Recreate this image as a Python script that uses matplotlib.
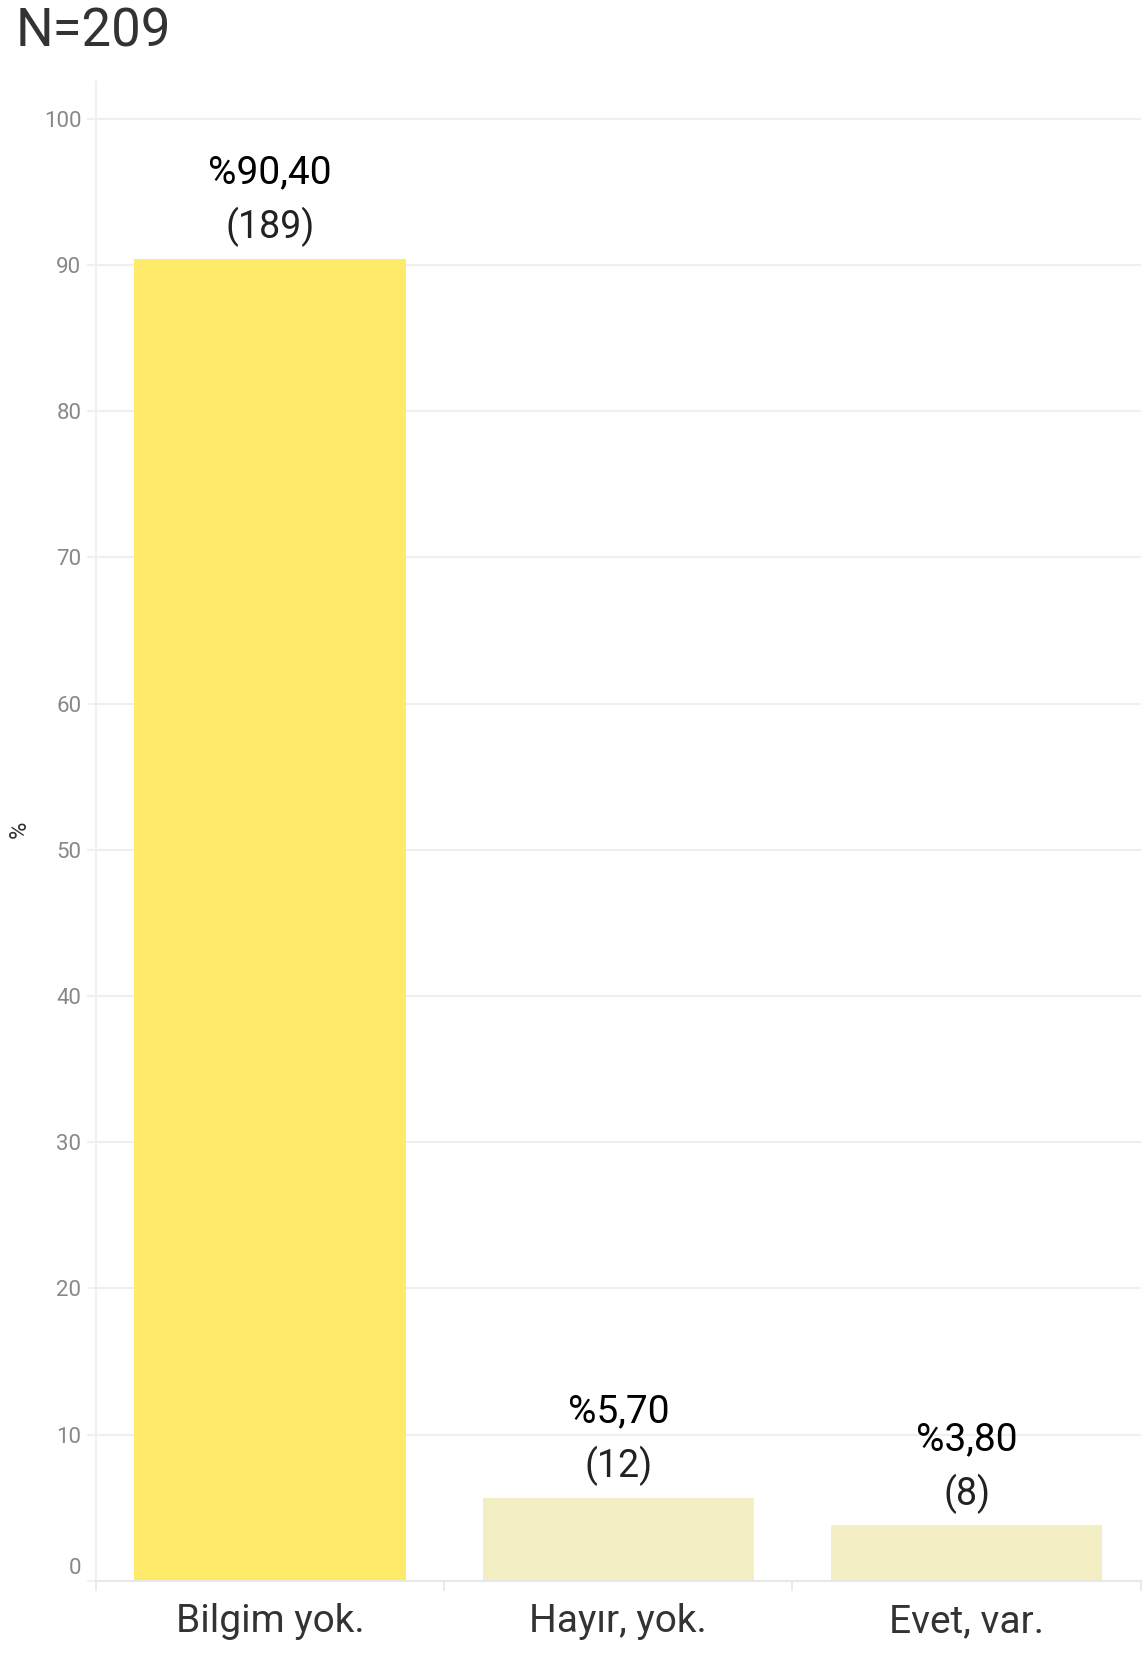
import matplotlib.pyplot as plt
import matplotlib.transforms as mtransforms

# --------------------------------------------------------
# Data
# --------------------------------------------------------
categories = ['Bilgim yok.', 'Hayır, yok.', 'Evet, var.']
percents = [90.40, 5.70, 3.80]
counts = [189, 12, 8]
bar_colors = ['#FFEB69', '#F3EEC4', '#F3EEC4']
y_ticks = [0, 10, 20, 30, 40, 50, 60, 70, 80, 90, 100]
total_n = 209

plt.rcParams['font.family'] = ['Roboto', 'DejaVu Sans']

fig = plt.figure(figsize=(11.43, 16.64), dpi=100)
ax = fig.add_axes([0.084, 0.0499, 0.914, 0.9008])

x = list(range(len(categories)))
ax.bar(x, percents, width=0.78, color=bar_colors, zorder=2)

# value labels: percentage above count
for xi, p, c in zip(x, percents, counts):
    pct = ('%.2f' % p).replace('.', ',')
    ax.annotate('%' + pct, (xi, p), xytext=(0, 62), textcoords='offset points',
                ha='center', va='center', fontsize=28, color='#000000')
    ax.annotate('(%d)' % c, (xi, p), xytext=(0, 23), textcoords='offset points',
                ha='center', va='center', fontsize=27, color='#222222')

ax.set_xlim(-0.5, 2.5)
ax.set_ylim(0, 102.5)

ax.set_yticks(y_ticks)
ax.set_yticklabels([str(t) for t in y_ticks])
ax.tick_params(axis='y', length=6.5, width=1.2, color='#eeeeee', pad=4,
               labelsize=16, labelcolor='#888888')
# the zero label sits a bit above its gridline
zero_lbl = ax.get_yticklabels()[0]
zero_lbl.set_transform(zero_lbl.get_transform() +
                       mtransforms.ScaledTranslation(0, 0.15, fig.dpi_scale_trans))

ax.set_xticks(x)
ax.set_xticklabels(categories)
ax.tick_params(axis='x', which='major', length=0, pad=16, labelsize=28, labelcolor='#333333')
ax.set_xticks([-0.5, 0.5, 1.5, 2.5], minor=True)
ax.tick_params(axis='x', which='minor', length=7.5, width=1.2, color='#e6e6e6')

ax.grid(axis='y', color='#efefef', linewidth=1.5, zorder=0)
for side in ['top', 'right']:
    ax.spines[side].set_visible(False)
ax.spines['left'].set_color('#f0f0f0')
ax.spines['left'].set_linewidth(1.5)
ax.spines['bottom'].set_color('#e8e8e8')
ax.spines['bottom'].set_linewidth(1.5)

fig.text(0.0165, 1 - 829 / 1664, '%', rotation=90, fontsize=17, color='#333333',
         ha='center', va='center')

fig.text(0.014, 1 - 32 / 1664, 'N=%d' % total_n, fontsize=38, color='#333333',
         ha='left', va='center')

fig.savefig('out.png', dpi=100)
